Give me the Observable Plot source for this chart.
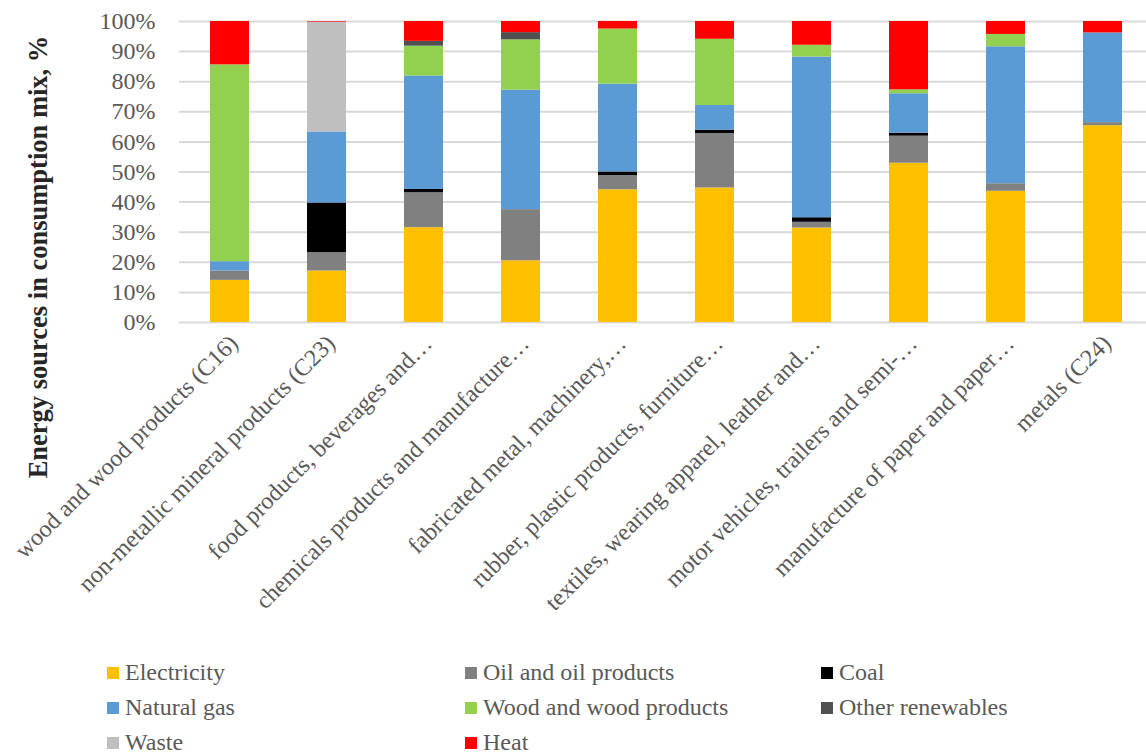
<!DOCTYPE html>
<html><head><meta charset="utf-8">
<script src="https://cdn.jsdelivr.net/npm/d3@7"></script>
<script src="https://cdn.jsdelivr.net/npm/@observablehq/plot@0.6"></script>
<style>
html,body{margin:0;padding:0;background:#fff;overflow:hidden;}
#wrap{position:relative;width:1146px;height:755px;font-family:"Liberation Serif","Times New Roman",serif;}
#ytitle{position:absolute;left:38px;top:257px;transform:translate(-50%,-50%) rotate(-90deg);white-space:nowrap;font-weight:bold;font-size:26.5px;color:#262626;}
#legend{position:absolute;left:107px;top:655px;display:grid;grid-template-columns:358px 356px 300px;grid-auto-rows:35px;font-size:24px;color:#595959;}
.item{display:flex;align-items:center;white-space:nowrap;}
.sw{width:12px;height:12px;margin-right:6px;flex:none;}
</style></head>
<body><div id="wrap"><div id="chart"></div><div id="ytitle">Energy sources in consumption mix, %</div><div id="legend"></div></div>
<script>
const categories = [
  "wood and wood products (C16)",
  "non-metallic mineral products (C23)",
  "food products, beverages and…",
  "chemicals products and manufacture…",
  "fabricated metal, machinery,…",
  "rubber, plastic products, furniture…",
  "textiles, wearing apparel, leather and…",
  "motor vehicles, trailers and semi-…",
  "manufacture of paper and paper…",
  "metals (C24)"
];
const seriesNames = ["Electricity","Oil and oil products","Coal","Natural gas","Wood and wood products","Other renewables","Waste","Heat"];
const seriesColors = ["#FFC000","#808080","#000000","#5B9BD5","#92D050","#505050","#BFBFBF","#FF0000"];

const electricity    = [14.0, 17.1, 31.5, 20.5, 44.1, 44.7, 31.4, 52.9, 43.6, 65.4];
const oil            = [ 3.1,  6.1, 11.6, 17.0,  4.7, 18.1,  1.9,  9.0,  2.5,  1.0];
const coal           = [ 0.0, 16.5,  1.1,  0.0,  1.2,  1.1,  1.5,  1.0,  0.0,  0.0];
const naturalGas     = [ 3.1, 23.6, 37.7, 39.7, 29.2,  8.2, 53.4, 13.1, 45.5, 29.8];
const wood           = [65.4,  0.0,  9.9, 16.7, 18.3, 22.0,  3.9,  1.3,  4.1,  0.0];
const otherRenew     = [ 0.0,  0.0,  1.6,  2.4,  0.0,  0.0,  0.0,  0.0,  0.0,  0.0];
const waste          = [ 0.0, 36.5,  0.0,  0.0,  0.0,  0.0,  0.0,  0.0,  0.0,  0.0];
const heat           = [14.4,  0.2,  6.6,  3.7,  2.5,  5.9,  7.9, 22.7,  4.3,  3.8];
const yTicks = [0,10,20,30,40,50,60,70,80,90,100];

const seriesValues = [electricity, oil, coal, naturalGas, wood, otherRenew, waste, heat];
const rows = [];
seriesNames.forEach((s, i) => {
  categories.forEach((c, j) => rows.push({category: c, series: s, value: seriesValues[i][j]}));
});

const chart = Plot.plot({
  width: 1146,
  height: 650,
  marginLeft: 179,
  marginRight: -7,
  marginTop: 21,
  marginBottom: 328,
  style: {fontFamily: "'Liberation Serif','Times New Roman',serif", fontSize: "24px", background: "white", overflow: "hidden"},
  x: {domain: categories, paddingInner: 0.603, paddingOuter: 0.3015, label: null},
  y: {domain: [0, 100], label: null},
  color: {domain: seriesNames, range: seriesColors},
  marks: [
    Plot.gridY(yTicks, {stroke: "#d9d9d9", strokeOpacity: 1, strokeWidth: 2}),
    Plot.barY(rows, {x: "category", y: "value", fill: "series"}),
    Plot.axisY(yTicks, {tickSize: 0, tickPadding: 24, tickFormat: d => d + "%", fill: "#595959", fontSize: 24, label: null}),
    Plot.axisX({tickSize: 0, tickPadding: 17, dx: 4, tickRotate: -45, fill: "#595959", fontSize: 24, label: null})
  ]
});
document.getElementById("chart").appendChild(chart);

const legend = document.getElementById("legend");
seriesNames.forEach((s, i) => {
  const it = document.createElement("div");
  it.className = "item";
  const sw = document.createElement("span");
  sw.className = "sw";
  sw.style.background = seriesColors[i];
  const tx = document.createElement("span");
  tx.textContent = s;
  it.appendChild(sw); it.appendChild(tx);
  legend.appendChild(it);
});
</script></body></html>
